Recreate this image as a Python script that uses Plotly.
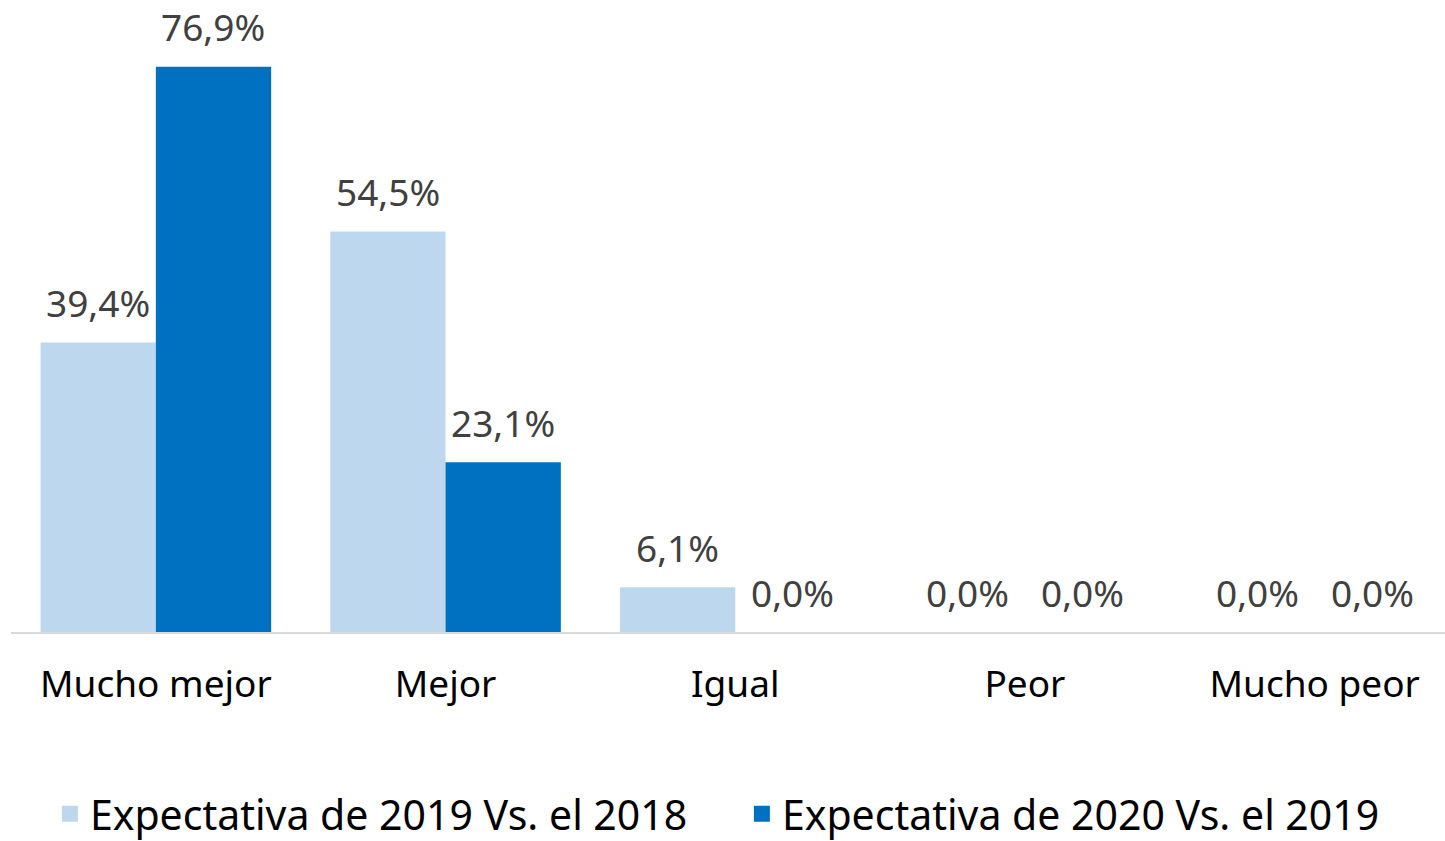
import plotly.graph_objects as go

categories = ["Mucho mejor", "Mejor", "Igual", "Peor", "Mucho peor"]
series_names = ["Expectativa de 2019 Vs. el 2018", "Expectativa de 2020 Vs. el 2019"]
values_2019 = [39.4, 54.5, 6.1, 0.0, 0.0]
values_2020 = [76.9, 23.1, 0.0, 0.0, 0.0]
colors = ["#BDD7EE", "#0070C0"]

FONT = "Noto Sans"

fig = go.Figure()
for name, vals, col in zip(series_names, [values_2019, values_2020], colors):
    fig.add_trace(go.Bar(
        x=categories, y=vals, name=name, marker_color=col,
        marker_line_width=0, hoverinfo="skip", showlegend=False,
    ))

# legend entries with larger square symbols
for name, col in zip(series_names, colors):
    fig.add_trace(go.Scatter(
        x=[None], y=[None], mode="markers", name=name,
        marker=dict(symbol="square", size=25, color=col, line_width=0),
        showlegend=True, hoverinfo="skip",
    ))

# data labels
for i, (name, vals) in enumerate(zip(series_names, [values_2019, values_2020])):
    for c, v in zip(categories, vals):
        fig.add_annotation(
            x=c, y=v, xref="x", yref="y",
            text=f"{v:.1f}%".replace(".", ","),
            showarrow=False, yanchor="middle", yshift=40,
            xshift=-57.5 if i == 0 else 57.5,
            font=dict(family=FONT, size=37, color="#404040"),
        )

fig.update_layout(
    width=1445, height=841,
    margin=dict(l=11, r=0, t=0, b=209, autoexpand=False),
    paper_bgcolor="white", plot_bgcolor="white",
    barmode="group", bargap=0.204, bargroupgap=0,
    font=dict(family=FONT, size=37, color="#000000"),
    showlegend=True,
    legend=dict(orientation="h", x=0.5 + 14 / 1445, xanchor="center",
                yref="container", y=1 - 814 / 841, yanchor="middle",
                font=dict(family=FONT, size=41, color="#000000"),
                itemwidth=30, traceorder="normal", entrywidth=647),
    xaxis=dict(range=[-0.5, 4.45], showline=True, linecolor="#D9D9D9", linewidth=2,
               showgrid=False, ticks="", ticklabelstandoff=19,
               tickfont=dict(family=FONT, size=37, color="#000000"), fixedrange=True),
    yaxis=dict(range=[0, 86], visible=False, showgrid=False, zeroline=False, fixedrange=True),
)

fig.write_html("out.html", config={"displayModeBar": False},
               post_script="document.body.style.margin='0';document.body.style.overflow='hidden';")
